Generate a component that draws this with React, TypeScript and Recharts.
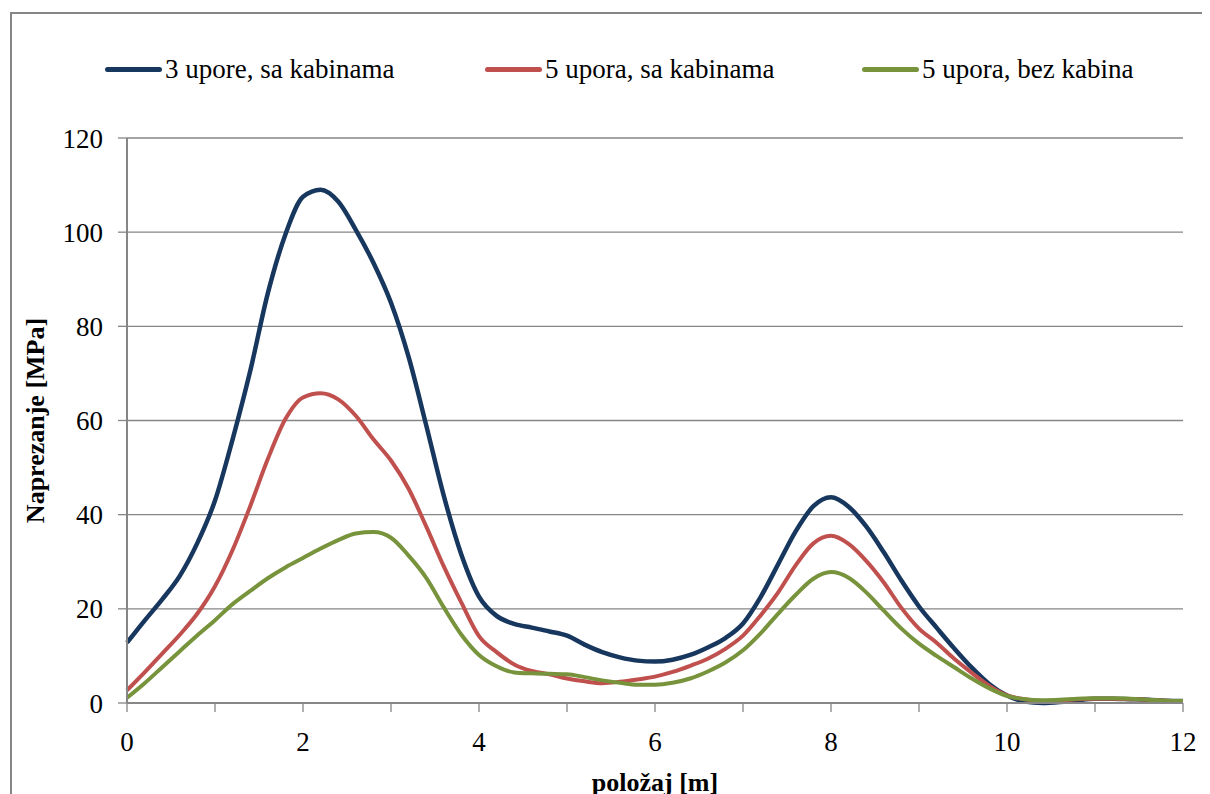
import { LineChart, Line, XAxis, YAxis, CartesianGrid, Label } from 'recharts';

// položaj [m], sampled every 0.2 m
const POSITIONS = [
  0, 0.2, 0.4, 0.6, 0.8, 1, 1.2, 1.4, 1.6, 1.8, 2, 2.2, 2.4, 2.6, 2.8, 3, 3.2, 3.4, 3.6, 3.8,
  4, 4.2, 4.4, 4.6, 4.8, 5, 5.2, 5.4, 5.6, 5.8, 6, 6.2, 6.4, 6.6, 6.8, 7, 7.2, 7.4, 7.6, 7.8,
  8, 8.2, 8.4, 8.6, 8.8, 9, 9.2, 9.4, 9.6, 9.8, 10, 10.2, 10.4, 10.6, 10.8, 11, 11.2, 11.4, 11.6, 11.8, 12,
];

// 3 upore, sa kabinama
const UPORE3_SA = [
  12.8, 17.5, 22, 27, 34, 43, 56, 70.5, 87, 99.5, 107.5, 109, 106.5, 100.5, 93.5, 85, 73.5, 59, 44, 31.5,
  22.6, 18.5, 16.8, 16, 15.2, 14.3, 12.4, 10.8, 9.7, 9, 8.8, 9.2, 10.2, 11.8, 13.8, 16.9, 22.5, 29.5, 36.5, 41.8,
  43.7, 41.7, 37.5, 32, 26, 20.5, 16, 11.6, 7.5, 4, 1.6, 0.3, 0, 0.2, 0.6, 0.9, 0.9, 0.8, 0.7, 0.5, 0.4,
];

// 5 upora, sa kabinama
const UPORA5_SA = [
  2.7, 6.5, 10.5, 14.5, 19, 24.8, 32.5, 41.8, 51.8, 60.3, 64.9, 65.8, 64.5, 61, 56, 51.5, 45.5, 37.5, 29, 21.3,
  14.2, 10.8, 8.2, 6.8, 6.1, 5.2, 4.6, 4.2, 4.5, 5, 5.6, 6.6, 7.9, 9.4, 11.5, 14.3, 18.6, 23.5, 29.3, 33.9,
  35.5, 33.8, 30.2, 25.6, 20.2, 15.8, 12.8, 9.4, 6.4, 3.6, 1.6, 0.8, 0.4, 0.5, 0.8, 0.9, 0.9, 0.8, 0.7, 0.5, 0.4,
];

// 5 upora, bez kabina
const UPORA5_BEZ = [
  1.1, 4.2, 7.6, 11, 14.4, 17.6, 21, 23.8, 26.5, 28.8, 30.8, 32.8, 34.6, 36, 36.3, 35.1, 31.3, 26.6, 20.3, 14.5,
  10.2, 7.8, 6.5, 6.3, 6.2, 6.1, 5.5, 4.8, 4.3, 3.9, 3.9, 4.3, 5.2, 6.7, 8.6, 11.2, 14.8, 19, 23, 26.4,
  27.8, 26.6, 23.5, 19.6, 15.8, 12.6, 10, 7.6, 5.2, 3.1, 1.5, 0.8, 0.6, 0.7, 0.9, 1, 1, 0.9, 0.7, 0.5, 0.4,
];

const X_TICKS = [0, 1, 2, 3, 4, 5, 6, 7, 8, 9, 10, 11, 12];
const Y_TICKS = [0, 20, 40, 60, 80, 100, 120];

const SERIES = [
  { key: 'a', name: '3 upore, sa kabinama', color: '#17375E', width: 4.5 },
  { key: 'b', name: '5 upora, sa kabinama', color: '#C0504D', width: 4 },
  { key: 'c', name: '5 upora, bez kabina', color: '#77933C', width: 4 },
];

const LEGEND_LEFT = [97, 477, 854];

const FONT = "'Liberation Serif', 'Times New Roman', serif";
const GRAY = '#868686';

const data = POSITIONS.map((x, i) => ({
  x,
  a: UPORE3_SA[i],
  b: UPORA5_SA[i],
  c: UPORA5_BEZ[i],
}));

function YLabel(props: any) {
  const vb = props.viewBox;
  const cx = vb.x - 32;
  const cy = vb.y + vb.height / 2;
  return (
    <text
      x={cx}
      y={cy}
      transform={`rotate(-90, ${cx}, ${cy})`}
      textAnchor="middle"
      dominantBaseline="central"
      fontFamily={FONT}
      fontWeight="bold"
      fontSize={26}
      fill="#000"
    >
      Naprezanje [MPa]
    </text>
  );
}

export default function App() {
  return (
    <div style={{ position: 'relative', width: 1202, height: 786, overflow: 'hidden', background: '#fff' }}>
      {/* chart frame, runs off the right and bottom edge */}
      <div
        style={{
          position: 'absolute',
          left: 2,
          top: 4,
          width: 1300,
          height: 900,
          border: `2px solid ${GRAY}`,
        }}
      />
      {/* legend */}
      {SERIES.map((s, i) => (
        <div
          key={s.key}
          style={{
            position: 'absolute',
            left: LEGEND_LEFT[i],
            top: 45,
            height: 32,
            display: 'flex',
            alignItems: 'center',
            fontFamily: FONT,
            fontSize: 27,
            lineHeight: '32px',
            color: '#000',
            whiteSpace: 'nowrap',
          }}
        >
          <span
            style={{
              display: 'inline-block',
              width: 57,
              height: 5,
              borderRadius: 3,
              background: s.color,
              marginRight: 3,
            }}
          />
          <span>{s.name}</span>
        </div>
      ))}
      <div style={{ position: 'absolute', left: 0, top: 0 }}>
        <LineChart width={1200} height={786} data={data} margin={{ top: 130, right: 25, left: 59, bottom: 31 }}>
          <CartesianGrid vertical={false} stroke={GRAY} strokeWidth={1.3} />
          <XAxis
            dataKey="x"
            type="number"
            domain={[0, 12]}
            ticks={X_TICKS}
            interval={0}
            height={60}
            tickFormatter={(v: number) => (v % 2 === 0 ? String(v) : '')}
            tickSize={9}
            tickMargin={20}
            axisLine={{ stroke: GRAY, strokeWidth: 2 }}
            tickLine={{ stroke: GRAY, strokeWidth: 1.3 }}
            tick={{ fill: '#000', fontSize: 27, fontFamily: FONT }}
          >
            <Label
              value="položaj [m]"
              position="bottom"
              offset={10}
              style={{ fontFamily: FONT, fontWeight: 'bold', fontSize: 26, fill: '#000' }}
            />
          </XAxis>
          <YAxis
            type="number"
            domain={[0, 120]}
            ticks={Y_TICKS}
            width={60}
            tickSize={9}
            tickMargin={15}
            axisLine={{ stroke: GRAY, strokeWidth: 2 }}
            tickLine={{ stroke: GRAY, strokeWidth: 1.3 }}
            tick={{ fill: '#000', fontSize: 27, fontFamily: FONT }}
            label={<YLabel />}
          />
          {SERIES.map((s) => (
            <Line
              key={s.key}
              dataKey={s.key}
              name={s.name}
              type="monotone"
              stroke={s.color}
              strokeWidth={s.width}
              dot={false}
              isAnimationActive={false}
            />
          ))}
        </LineChart>
      </div>
    </div>
  );
}
